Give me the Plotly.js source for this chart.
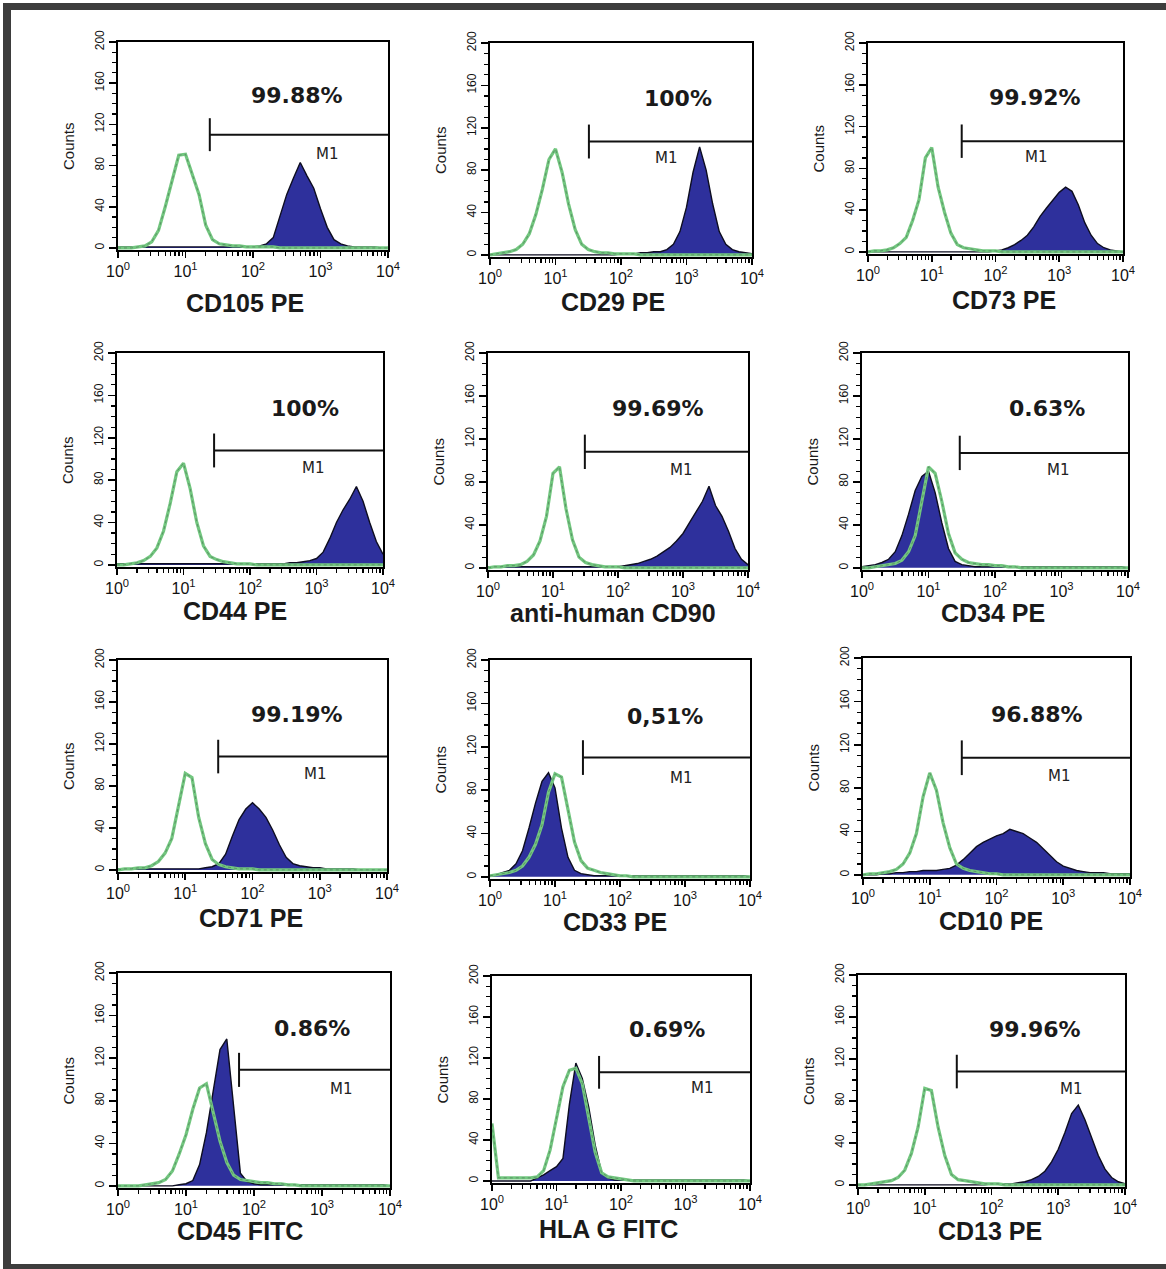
<!DOCTYPE html>
<html>
<head>
<meta charset="utf-8">
<script src="https://cdn.plot.ly/plotly-3.0.1.min.js"></script>
<style>
  html, body { margin: 0; padding: 0; background: #ffffff; }
  #chart { width: 1166px; height: 1269px; }
</style>
</head>
<body>
<div id="chart"></div>
<script>
// ---------- DATA ----------
// fluorescence channel positions (log10 of intensity) shared by all histograms
const logChannel = [0.0,0.1,0.2,0.3,0.4,0.5,0.6,0.7,0.8,0.9,1.0,1.1,1.2,1.3,1.4,1.5,1.6,1.7,1.8,1.9,2.0,
                    2.1,2.2,2.3,2.4,2.5,2.6,2.7,2.8,2.9,3.0,3.1,3.2,3.3,3.4,3.5,3.6,3.7,3.8,3.9,4.0];

const markerNames = ['CD105 PE','CD29 PE','CD73 PE','CD44 PE','anti-human CD90','CD34 PE',
                     'CD71 PE','CD33 PE','CD10 PE','CD45 FITC','HLA G FITC','CD13 PE'];
const positivePercent = ['99.88%','100%','99.92%','100%','99.69%','0.63%',
                         '99.19%','0,51%','96.88%','0.86%','0.69%','99.96%'];

// isotype control (green outline) counts
const control_CD105 = [0,0,0,1,2,6,17,40,66,90,91,72,52,22,8,4,3,2,2,1,1,1,1,1,0,0,0,0,0,0,0,0,0,0,0,0,0,0,0,0,0];
const control_CD29  = [0,1,2,3,5,10,20,38,62,90,100,78,48,24,10,5,3,2,2,1,1,1,1,0,0,0,0,0,0,0,0,0,0,0,0,0,0,0,0,0,0];
const control_CD73  = [0,1,1,2,4,8,14,30,50,90,100,62,38,18,7,4,3,2,1,1,1,0,0,0,0,0,0,0,0,0,0,0,0,0,0,0,0,0,0,0,0];
const control_CD44  = [0,0,1,2,4,8,16,32,58,88,96,72,40,18,8,5,3,2,1,1,1,0,0,0,0,0,0,0,0,0,0,0,0,0,0,0,0,0,0,0,0];
const control_CD90  = [0,1,1,2,2,3,6,12,25,48,88,94,55,26,10,5,3,2,1,1,1,0,0,0,0,0,0,0,0,0,0,0,0,0,0,0,0,0,0,0,0];
const control_CD34  = [0,0,1,2,3,4,7,15,30,62,94,88,62,32,14,8,5,4,3,3,2,2,1,1,0,0,0,0,0,0,0,0,0,0,0,0,0,0,0,0,0];
const control_CD71  = [0,1,1,2,2,4,8,16,30,60,92,88,50,25,10,5,3,2,1,1,1,0,0,0,0,0,0,0,0,0,0,0,0,0,0,0,0,0,0,0,0];
const control_CD33  = [1,2,3,4,6,10,18,30,48,78,95,92,62,32,15,8,6,4,3,2,1,1,0,0,0,0,0,0,0,0,0,0,0,0,0,0,0,0,0,0,0];
const control_CD10  = [0,1,1,2,3,5,10,20,38,72,94,78,48,25,10,6,4,3,2,1,1,0,0,0,0,0,0,0,0,0,0,0,0,0,0,0,0,0,0,0,0];
const control_CD45  = [0,0,0,0,1,2,3,6,14,30,48,72,92,96,70,42,22,10,6,5,4,3,3,2,2,1,1,0,0,0,0,0,0,0,0,0,0,0,0,0,0];
const control_HLAG  = [56,3,3,3,3,3,3,4,10,30,62,92,108,110,95,62,28,8,4,3,2,1,0,0,0,0,0,0,0,0,0,0,0,0,0,0,0,0,0,0,0];
const control_CD13  = [0,0,1,2,3,4,7,14,30,55,92,90,55,28,10,5,4,3,2,1,1,1,0,0,0,0,0,0,0,0,0,0,0,0,0,0,0,0,0,0,0];

// stained sample (filled blue) counts
const stained_CD105 = [1,1,1,1,1,1,1,1,1,1,1,1,1,1,1,1,1,1,1,1,1,2,4,10,30,52,68,83,70,58,38,20,8,4,2,1,1,1,1,0,0];
const stained_CD29  = [0,0,0,0,0,0,0,0,0,0,0,0,0,0,0,0,0,0,0,0,1,1,1,2,2,3,3,5,10,22,45,78,102,80,48,22,10,5,3,2,1];
const stained_CD73  = [0,0,0,0,0,0,0,0,0,0,0,0,0,0,0,0,0,0,0,0,1,2,4,7,11,16,24,34,42,50,57,62,58,45,28,16,8,4,2,1,0];
const stained_CD44  = [1,1,1,1,1,1,1,1,1,1,1,1,1,1,1,1,1,1,1,1,1,1,1,1,1,1,2,2,3,4,6,12,25,40,52,62,74,60,40,22,10];
const stained_CD90  = [1,1,1,1,1,1,1,1,1,1,1,1,1,1,1,1,1,1,1,1,1,2,3,4,6,8,11,15,19,25,32,42,52,62,76,58,48,34,18,8,3];
const stained_CD34  = [1,2,3,5,8,15,30,50,72,85,90,70,42,18,6,3,2,1,1,1,1,1,1,1,1,1,1,1,1,1,1,1,1,1,1,1,1,1,1,1,0];
const stained_CD71  = [1,1,1,1,1,1,1,1,1,1,1,1,1,2,3,6,15,32,48,58,64,58,50,38,24,12,6,4,3,2,2,1,1,1,1,1,0,0,0,0,0];
const stained_CD33  = [1,2,4,6,12,24,45,68,88,96,82,45,18,6,3,2,1,1,1,1,1,1,1,1,1,1,1,1,1,1,1,1,1,1,1,1,1,1,1,1,0];
const stained_CD10  = [0,0,0,1,1,2,2,3,3,4,4,4,5,6,9,14,20,26,30,33,36,38,42,40,38,34,30,24,18,12,8,6,4,3,2,2,2,1,1,1,1];
const stained_CD45  = [0,0,0,0,0,0,0,0,0,1,2,5,20,50,90,128,138,78,12,4,2,1,1,1,1,1,1,1,1,1,1,1,1,1,1,1,1,1,1,1,0];
const stained_HLAG  = [0,0,0,0,0,0,0,3,6,10,14,22,75,115,100,72,35,8,3,1,1,1,1,1,1,1,1,1,1,1,1,1,1,1,1,1,1,1,1,1,0];
const stained_CD13  = [0,0,0,0,0,0,0,0,0,0,0,0,0,0,0,0,0,0,0,0,1,1,1,1,2,3,5,8,13,22,34,50,68,76,62,44,28,15,7,3,1];

const controlSeries = [control_CD105, control_CD29, control_CD73, control_CD44, control_CD90, control_CD34,
                       control_CD71, control_CD33, control_CD10, control_CD45, control_HLAG, control_CD13];
const stainedSeries = [stained_CD105, stained_CD29, stained_CD73, stained_CD44, stained_CD90, stained_CD34,
                       stained_CD71, stained_CD33, stained_CD10, stained_CD45, stained_HLAG, stained_CD13];

// M1 gate: start channel (log10) and drawing level (counts)
const gateStartLog = [1.36,1.51,1.47,1.46,1.49,1.47,1.49,1.43,1.48,1.78,1.66,1.48];
const gateLevel    = [110,107,106,108,108,107,108,110,108,109,106,108];

// axis ticks
const xTickVals = [1,10,100,1000,10000];
const xTickText = ['10<sup>0</sup>','10<sup>1</sup>','10<sup>2</sup>','10<sup>3</sup>','10<sup>4</sup>'];
const yTickVals = [0,40,80,120,160,200];
const yTickText = ['0','40','80','120','160','200'];

// ---------- LAYOUT (pixel boxes: left, right, top, bottom) ----------
const W = 1166, H = 1269;
const boxes = [
  [118,388,42,250],[490,752,43,257],[868,1123,43,254],
  [117,383,353,567],[488,748,353,570],[862,1128,353,570],
  [118,387,660,872],[490,750,660,879],[863,1130,658,877],
  [118,390,973,1188],[492,750,976,1183],[858,1125,975,1187]
];
const pctLabelX = [2.65,2.87,2.62,2.83,2.62,2.78,2.66,2.69,2.61,2.85,2.71,2.65];
const m1LabelX  = [3.11,2.70,2.65,2.95,2.98,2.95,2.93,2.95,2.95,3.29,3.26,3.20];
const titleDx   = [-8,-8,8,-15,-5,-2,-2,-5,-6,-14,-13,-1];
const titleDy   = [53,45,46,44,43,43,46,43,44,43,46,44];

// minor tick positions (axis decoration, not data)
const xMinorTicks = [];
[1, 10, 100, 1000].forEach(d => { for (let m = 2; m <= 9; m++) xMinorTicks.push(m * d); });
const yMinorTicks = [];
for (let v = 10; v < 200; v += 10) if (v % 40 !== 0) yMinorTicks.push(v);

const FONT = 'Liberation Sans, Arial, sans-serif';
const xGrid = logChannel.map(e => Math.pow(10, e));

const traces = [];
const layout = {
  width: W, height: H,
  margin: {l:0, r:0, t:0, b:0},
  paper_bgcolor: '#ffffff', plot_bgcolor: '#ffffff',
  showlegend: false, hovermode: false,
  font: {family: FONT, color: '#111'},
  annotations: [], shapes: []
};

for (let i = 0; i < 12; i++) {
  const k = i === 0 ? '' : String(i + 1);
  const xa = 'x' + k, ya = 'y' + k;
  const [l, r, t, b] = boxes[i];

  layout['xaxis' + k] = {
    type: 'log', range: [0, 4], domain: [l / W, r / W], anchor: ya,
    tickmode: 'array', tickvals: xTickVals, ticktext: xTickText,
    ticks: 'outside', ticklen: 6, tickwidth: 1.6, tickcolor: '#000',
    minor: {tickmode: 'array', tickvals: xMinorTicks, ticks: 'outside', ticklen: 4, tickwidth: 1.2,
            tickcolor: '#000', showgrid: false},
    showline: true, linecolor: '#000', linewidth: 2, mirror: true,
    showgrid: false, zeroline: false, fixedrange: true,
    tickfont: {family: FONT, size: 16, color: '#111'}
  };
  layout['yaxis' + k] = {
    range: [-2, 200], domain: [1 - b / H, 1 - t / H], anchor: xa,
    tickmode: 'array', tickvals: yTickVals, ticktext: yTickText, tickangle: -90,
    ticks: 'outside', ticklen: 7, tickwidth: 1.6, tickcolor: '#000',
    minor: {tickmode: 'array', tickvals: yMinorTicks, ticks: 'outside', ticklen: 4, tickwidth: 1.2,
            tickcolor: '#000', showgrid: false},
    showline: true, linecolor: '#000', linewidth: 2, mirror: true,
    showgrid: false, zeroline: false, fixedrange: true,
    tickfont: {family: FONT, size: 12, color: '#111'}
  };

  // stained histogram (filled)
  traces.push({
    type: 'scatter', mode: 'lines', x: xGrid, y: stainedSeries[i], xaxis: xa, yaxis: ya,
    fill: 'tozeroy', fillcolor: '#2e309c', line: {color: '#0d0d20', width: 1.4}
  });
  // isotype control (green outline)
  traces.push({
    type: 'scatter', mode: 'lines', x: xGrid, y: controlSeries[i], xaxis: xa, yaxis: ya,
    line: {color: '#72c77f', width: 3.2}
  });
  traces.push({
    type: 'scatter', mode: 'lines', x: xGrid, y: controlSeries[i], xaxis: xa, yaxis: ya,
    line: {color: 'rgba(80,120,90,0.75)', width: 0.9, dash: 'dot'}
  });
  // M1 gate bracket
  const g = Math.pow(10, gateStartLog[i]);
  traces.push({
    type: 'scatter', mode: 'lines', xaxis: xa, yaxis: ya,
    x: [g, g, null, g, 10000],
    y: [gateLevel[i] - 16, gateLevel[i] + 16, null, gateLevel[i], gateLevel[i]],
    line: {color: '#111', width: 2}
  });

  layout.annotations.push({
    xref: xa, yref: ya, x: pctLabelX[i], y: 148, text: positivePercent[i], showarrow: false,
    font: {family: 'DejaVu Sans, sans-serif', size: 22, weight: 'bold', color: '#1a1a1a'}
  });
  layout.annotations.push({
    xref: xa, yref: ya, x: m1LabelX[i], y: 91, text: 'M1', showarrow: false,
    font: {family: 'DejaVu Sans, sans-serif', size: 15, color: '#222'}
  });
  layout.annotations.push({
    xref: xa + ' domain', yref: ya + ' domain', x: 0.5, y: 0, xanchor: 'center', yanchor: 'middle',
    xshift: titleDx[i], yshift: -titleDy[i], text: markerNames[i], showarrow: false,
    font: {family: FONT, size: 25, weight: 'bold', color: '#1a1a1a'}
  });
  layout.annotations.push({
    xref: xa + ' domain', yref: ya + ' domain', x: 0, y: 0.5, xanchor: 'center', yanchor: 'middle',
    xshift: -50, text: 'Counts', textangle: -90, showarrow: false,
    font: {family: FONT, size: 15, color: '#1a1a1a'}
  });
}

// dark frame around the figure
layout.shapes.push({type: 'rect', xref: 'paper', yref: 'paper', x0: 3 / W, x1: 11 / W, y0: 0, y1: 1 - 3 / H,
                    fillcolor: '#3d3d3d', line: {width: 0}});
layout.shapes.push({type: 'rect', xref: 'paper', yref: 'paper', x0: 3 / W, x1: 1, y0: 1 - 10 / H, y1: 1 - 3 / H,
                    fillcolor: '#3d3d3d', line: {width: 0}});
layout.shapes.push({type: 'rect', xref: 'paper', yref: 'paper', x0: 3 / W, x1: 1, y0: 0, y1: 5 / H,
                    fillcolor: '#3d3d3d', line: {width: 0}});

Plotly.newPlot('chart', traces, layout, {staticPlot: true, displayModeBar: false});
</script>
</body>
</html>
